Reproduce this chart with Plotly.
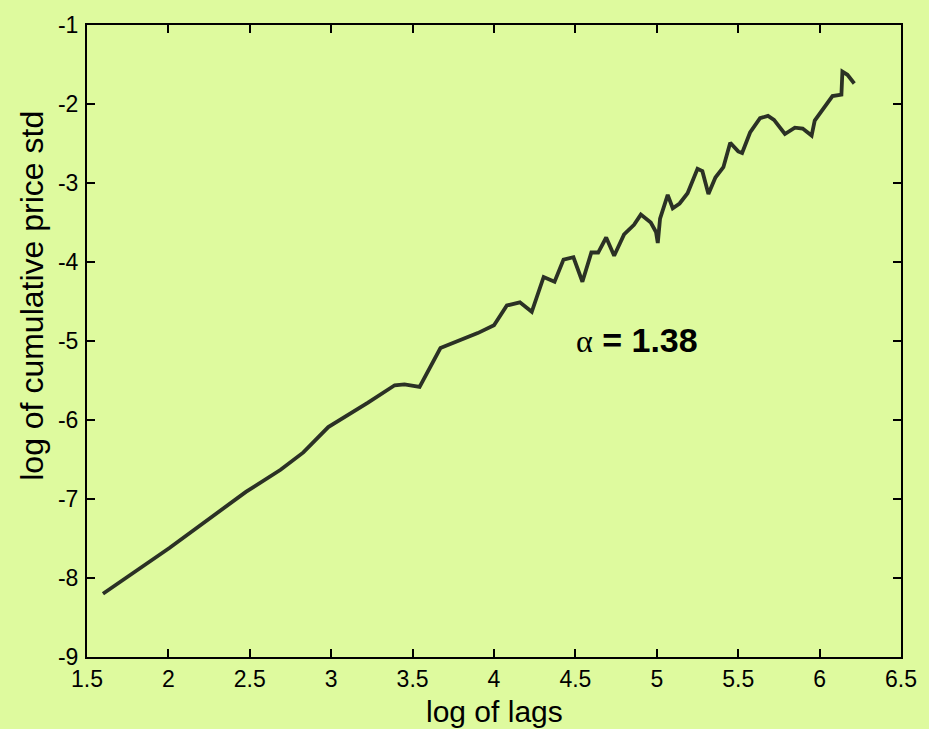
import plotly.graph_objects as go

# log of lags vs log of cumulative price standard deviation
log_lags = [1.598, 2.006, 2.476, 2.689, 2.829, 2.982, 3.226, 3.390, 3.45, 3.543,
            3.671, 3.793, 3.90, 4.0, 4.079, 4.159, 4.232, 4.305, 4.372, 4.427,
            4.488, 4.543, 4.598, 4.64, 4.689, 4.738, 4.799, 4.860, 4.902, 4.963,
            4.995, 5.006, 5.02, 5.067, 5.098, 5.140, 5.189, 5.250, 5.28, 5.317,
            5.360, 5.409, 5.451, 5.50, 5.524, 5.573, 5.634, 5.683, 5.72, 5.787,
            5.848, 5.896, 5.951, 5.970, 6.030, 6.079, 6.134, 6.140, 6.171, 6.213]
log_std = [-8.20, -7.62, -6.91, -6.63, -6.41, -6.09, -5.78, -5.56, -5.55, -5.58,
           -5.09, -4.99, -4.90, -4.80, -4.55, -4.51, -4.63, -4.19, -4.25, -3.97,
           -3.94, -4.25, -3.88, -3.88, -3.69, -3.92, -3.65, -3.53, -3.40, -3.50,
           -3.62, -3.76, -3.45, -3.15, -3.32, -3.26, -3.13, -2.82, -2.85, -3.14,
           -2.93, -2.80, -2.49, -2.60, -2.62, -2.36, -2.18, -2.15, -2.20, -2.38,
           -2.30, -2.31, -2.40, -2.21, -2.03, -1.90, -1.88, -1.59, -1.63, -1.74]

x_ticks = [1.5, 2, 2.5, 3, 3.5, 4, 4.5, 5, 5.5, 6, 6.5]
y_ticks = [-9, -8, -7, -6, -5, -4, -3, -2, -1]
alpha_label = "1.38"
x_title = "log of lags"
y_title = "log of cumulative price std"

bg = "#DEFA9E"
font_main = "Liberation Sans, Arial, sans-serif"

fig = go.Figure()
fig.add_trace(go.Scatter(
    x=log_lags, y=log_std, mode="lines",
    line=dict(color="#2b3125", width=3.8),
    showlegend=False, hoverinfo="skip",
))

# exponent label
fig.add_annotation(
    x=4.49, y=-4.99, xref="x", yref="y", xanchor="left", yanchor="middle",
    showarrow=False,
    text=("<span style='font-family:Liberation Serif;font-size:32px'>α</span>"
          f"<b> = {alpha_label}</b>"),
    font=dict(family=font_main, size=34, color="#000000"),
)

# axis titles
fig.add_annotation(
    x=0.501, y=-0.087, xref="paper", yref="paper", xanchor="center", yanchor="middle",
    showarrow=False, text=x_title,
    font=dict(family=font_main, size=30, color="#000000"),
)
fig.add_annotation(
    x=-0.068, y=0.571, xref="paper", yref="paper", xanchor="center", yanchor="middle",
    showarrow=False, text=y_title, textangle=-90,
    font=dict(family=font_main, size=32, color="#000000"),
)

axis_common = dict(
    showgrid=False, zeroline=False, showline=True, linecolor="#000000",
    linewidth=2, mirror="ticks", ticks="inside", ticklen=8, tickwidth=1.5,
    tickcolor="#000000", tickfont=dict(family=font_main, size=23, color="#000000"),
)

fig.update_xaxes(
    range=[1.5, 6.5], tickvals=x_ticks, ticktext=[f"{v:g}" for v in x_ticks],
    **axis_common,
)
fig.update_yaxes(
    range=[-9, -1], tickvals=y_ticks, ticktext=[f"{v:g}" for v in y_ticks],
    ticklabelstandoff=2,
    **axis_common,
)

fig.update_layout(
    width=929, height=729,
    margin=dict(l=87, r=22, t=18, b=72),
    paper_bgcolor=bg, plot_bgcolor=bg,
)

fig.write_html("out.html")
